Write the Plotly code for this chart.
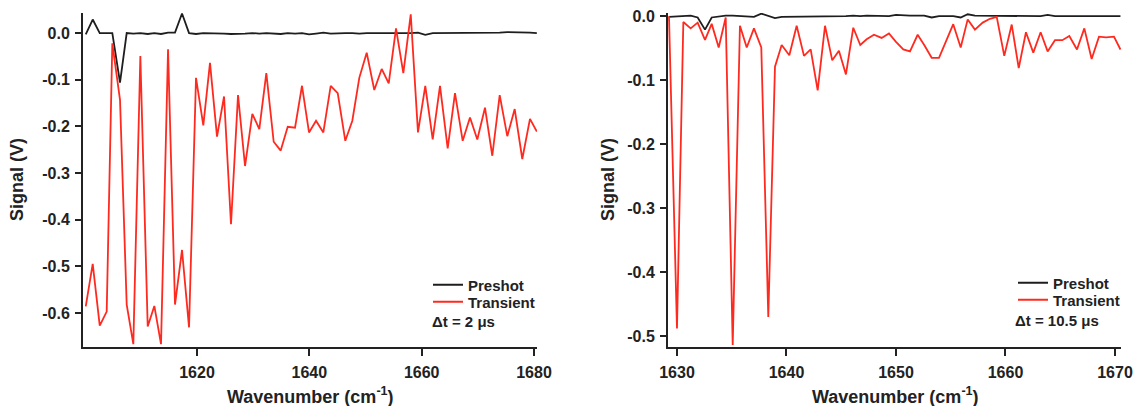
import plotly.graph_objects as go

# ---------------- Left panel (Δt = 2 µs) ----------------
wn_left = [1600.19, 1601.43, 1602.68, 1603.92, 1604.92, 1606.29, 1607.48, 1608.66, 1609.91, 1611.22,
           1612.40, 1613.59, 1614.84, 1616.08, 1617.33, 1618.58, 1619.82, 1621.12, 1622.31, 1623.56,
           1624.81, 1626.05, 1627.30, 1628.55, 1629.85, 1631.09, 1632.34, 1633.65, 1634.90, 1636.15,
           1637.45, 1638.69, 1639.94, 1641.19, 1642.49, 1643.80, 1645.05, 1646.40, 1647.65, 1648.89,
           1650.21, 1651.56, 1652.88, 1654.13, 1655.43, 1656.73, 1658.05, 1659.34, 1660.64, 1661.96,
           1663.26, 1664.63, 1665.93, 1667.30, 1668.60, 1669.90, 1671.27, 1672.57, 1673.89, 1675.24,
           1676.56, 1677.91, 1679.28, 1680.50]
transient_left = [-0.586, -0.495, -0.627, -0.597, -0.022, -0.143, -0.582, -0.667, -0.049, -0.629,
                  -0.585, -0.667, -0.035, -0.582, -0.465, -0.631, -0.096, -0.198, -0.064, -0.222,
                  -0.136, -0.410, -0.133, -0.285, -0.173, -0.206, -0.086, -0.233, -0.252, -0.201,
                  -0.203, -0.113, -0.213, -0.188, -0.213, -0.113, -0.129, -0.231, -0.188, -0.096,
                  -0.042, -0.122, -0.077, -0.108, 0.010, -0.086, 0.040, -0.213, -0.113, -0.228,
                  -0.113, -0.247, -0.129, -0.231, -0.181, -0.228, -0.160, -0.263, -0.133, -0.221,
                  -0.163, -0.270, -0.184, -0.211]
preshot_left = [-0.003, 0.029, 0.0, 0.0, 0.0, -0.106, 0.0, -0.001, 0.0, -0.002,
                0.0, -0.002, 0.001, 0.001, 0.042, 0.0, -0.002, 0.0, 0.0, -0.001,
                -0.001, -0.002, -0.002, -0.001, 0.0, -0.001, 0.0, -0.001, -0.002, 0.0,
                -0.001, 0.0, -0.003, -0.001, 0.001, -0.001, 0.0, 0.0, 0.0, -0.001,
                0.0, 0.0, 0.0, -0.001, 0.0, 0.0, 0.0, 0.001, -0.004, 0.0,
                0.0, 0.0, 0.0, 0.0, 0.0, 0.0, 0.001, 0.001, 0.001, 0.002,
                0.002, 0.001, 0.001, 0.0]
xticks_left = [1620, 1640, 1660, 1680]
yticks_left = [0.0, -0.1, -0.2, -0.3, -0.4, -0.5, -0.6]
ytext_left = ["0.0", "-0.1", "-0.2", "-0.3", "-0.4", "-0.5", "-0.6"]

# ---------------- Right panel (Δt = 10.5 µs) ----------------
wn_right = [1629.27, 1630.00, 1630.58, 1631.25, 1631.89, 1632.56, 1633.17, 1633.81, 1634.45, 1635.09,
            1635.75, 1636.37, 1637.03, 1637.70, 1638.34, 1638.95, 1639.56, 1640.26, 1640.93, 1641.60,
            1642.21, 1642.85, 1643.52, 1644.18, 1644.79, 1645.43, 1646.10, 1646.74, 1647.32, 1647.99,
            1648.69, 1649.36, 1650.00, 1650.67, 1651.28, 1651.98, 1652.58, 1653.26, 1653.93, 1654.57,
            1655.23, 1655.91, 1656.55, 1657.21, 1657.92, 1658.58, 1659.20, 1659.89, 1660.57, 1661.21,
            1661.87, 1662.54, 1663.21, 1663.85, 1664.52, 1665.19, 1665.83, 1666.53, 1667.20, 1667.87,
            1668.54, 1669.18, 1669.91, 1670.50]
transient_right = [0.0, -0.488, -0.009, -0.019, -0.010, -0.037, -0.012, -0.049, -0.002, -0.514,
                   -0.015, -0.049, -0.019, -0.049, -0.470, -0.079, -0.045, -0.061, -0.015, -0.062,
                   -0.052, -0.116, -0.015, -0.069, -0.054, -0.091, -0.018, -0.045, -0.036, -0.029,
                   -0.034, -0.027, -0.040, -0.052, -0.055, -0.029, -0.045, -0.065, -0.065, -0.039,
                   -0.0125, -0.049, -0.005, -0.021, -0.010, -0.004, -0.001, -0.062, -0.013, -0.081,
                   -0.025, -0.057, -0.025, -0.055, -0.0375, -0.0375, -0.031, -0.052, -0.019, -0.067,
                   -0.032, -0.033, -0.032, -0.052]
preshot_right = [-0.001, 0.0, 0.0, 0.001, -0.002, -0.021, -0.002, 0.0, 0.001, 0.001,
                 0.0, -0.001, -0.001, 0.004, 0.001, -0.003, -0.001, -0.001, -0.001, 0.0,
                 -0.001, -0.001, -0.001, 0.0, -0.001, 0.0, 0.001, 0.0, 0.001, 0.001,
                 0.0, 0.0, 0.002, 0.001, 0.001, 0.001, 0.001, -0.002, 0.0, 0.0,
                 0.0, -0.002, 0.003, 0.001, 0.001, 0.001, 0.0, 0.0, 0.0, 0.0,
                 0.001, 0.0, 0.0, 0.002, 0.0, 0.0, 0.0, 0.001, 0.0, 0.0,
                 0.001, 0.0, 0.0, 0.0]
xticks_right = [1630, 1640, 1650, 1660, 1670]
yticks_right = [0.0, -0.1, -0.2, -0.3, -0.4, -0.5]
ytext_right = ["0.0", "-0.1", "-0.2", "-0.3", "-0.4", "-0.5"]

series_names = ["Preshot", "Transient"]
delta_labels = ["Δt = 2 μs", "Δt = 10.5 μs"]
x_title = "Wavenumber (cm<sup>-1</sup>)"
y_title = "Signal (V)"

assert len(wn_left) == len(transient_left) == len(preshot_left)
assert len(wn_right) == len(transient_right) == len(preshot_right)

FONT = "Liberation Sans, Arial, sans-serif"
INK = "#222222"
BLACK = "#1e1e1e"
RED = "#ff2a1f"
W, H = 1136, 406
LW = 1.8


def bold(items):
    return ["<b>%s</b>" % str(t) for t in items]


fig = go.Figure()
fig.add_trace(go.Scatter(x=wn_left, y=preshot_left, mode="lines", name=series_names[0],
                         line=dict(color=BLACK, width=LW), xaxis="x", yaxis="y", legend="legend"))
fig.add_trace(go.Scatter(x=wn_left, y=transient_left, mode="lines", name=series_names[1],
                         line=dict(color=RED, width=LW), xaxis="x", yaxis="y", legend="legend2"))
fig.add_trace(go.Scatter(x=wn_right, y=preshot_right, mode="lines", name=series_names[0],
                         line=dict(color=BLACK, width=LW), xaxis="x2", yaxis="y2", legend="legend3"))
fig.add_trace(go.Scatter(x=wn_right, y=transient_right, mode="lines", name=series_names[1],
                         line=dict(color=RED, width=LW), xaxis="x2", yaxis="y2", legend="legend4"))

tickfont = dict(family=FONT, size=16, color=INK)
axis_common = dict(showline=True, linecolor=INK, linewidth=2, ticks="outside", tickwidth=2,
                   tickcolor=INK, showgrid=False, zeroline=False, tickfont=tickfont,
                   fixedrange=True, automargin=False)

ydom = [1 - 347 / H, 1 - 13 / H]
legfont = dict(family=FONT, size=15, color=INK, weight=700)


def leg(xpx, ycenter):
    return dict(x=xpx / W, y=1 - (ycenter - 17.5) / H, xanchor="left", yanchor="top",
                bgcolor="rgba(0,0,0,0)", font=legfont, itemwidth=30, borderwidth=0)


fig.update_layout(
    width=W, height=H, margin=dict(l=0, r=0, t=0, b=0, autoexpand=False),
    paper_bgcolor="white", plot_bgcolor="white", showlegend=True,
    xaxis=dict(domain=[83 / W, 537 / W], range=[1599.70, 1680.53], tickvals=xticks_left,
               ticktext=bold(xticks_left), ticklen=7, ticklabelstandoff=3, anchor="y", **axis_common),
    yaxis=dict(domain=ydom, range=[-0.673, 0.043], tickvals=yticks_left, ticktext=bold(ytext_left),
               ticklen=6, anchor="x", ticklabelstandoff=2, **axis_common),
    xaxis2=dict(domain=[668 / W, 1121 / W], range=[1629.18, 1670.55], tickvals=xticks_right,
                ticktext=bold(xticks_right), ticklen=7, ticklabelstandoff=3, anchor="y2", **axis_common),
    yaxis2=dict(domain=ydom, range=[-0.517, 0.005], tickvals=yticks_right, ticktext=bold(ytext_right),
                ticklen=6, anchor="x2", ticklabelstandoff=2, **axis_common),
    legend=leg(428, 286),
    legend2=leg(428, 303),
    legend3=leg(1013, 284),
    legend4=leg(1013, 301),
)

ann_font = dict(family=FONT, size=18, color=INK, weight=700)
annotations = [
    dict(text=x_title, x=310 / W, y=1 - 395 / H, xref="paper", yref="paper",
         xanchor="center", yanchor="middle", showarrow=False, font=ann_font),
    dict(text=x_title, x=895 / W, y=1 - 395 / H, xref="paper", yref="paper",
         xanchor="center", yanchor="middle", showarrow=False, font=ann_font),
    dict(text=y_title, x=17 / W, y=1 - 180 / H, xref="paper", yref="paper", textangle=-90,
         xanchor="center", yanchor="middle", showarrow=False, font=ann_font),
    dict(text=y_title, x=608 / W, y=1 - 180 / H, xref="paper", yref="paper", textangle=-90,
         xanchor="center", yanchor="middle", showarrow=False, font=ann_font),
    dict(text=delta_labels[0], x=430 / W, y=1 - 321 / H, xref="paper", yref="paper",
         xanchor="left", yanchor="middle", showarrow=False, font=legfont),
    dict(text=delta_labels[1], x=1013 / W, y=1 - 320 / H, xref="paper", yref="paper",
         xanchor="left", yanchor="middle", showarrow=False, font=legfont),
]
fig.update_layout(annotations=annotations)

fig.write_html("out.html", config={"displayModeBar": False})
